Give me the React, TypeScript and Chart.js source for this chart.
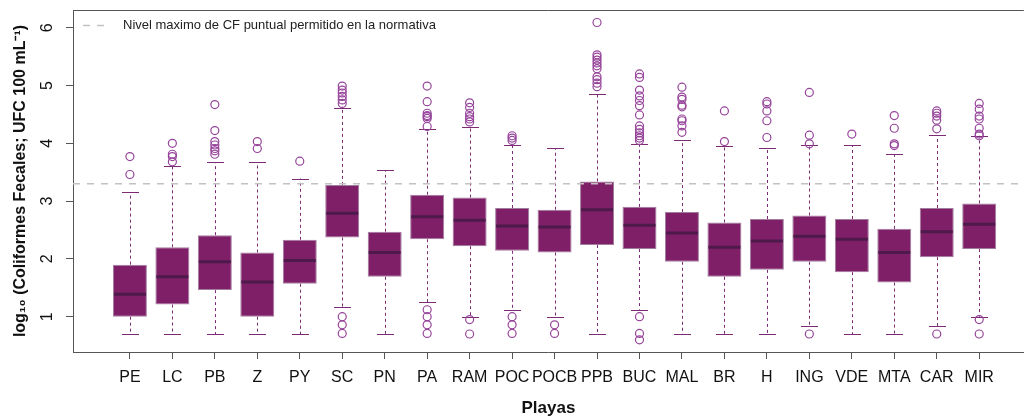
import React, { useEffect, useRef } from "react";
import { Chart, registerables } from "chart.js";

Chart.register(...registerables);

// ---------- data ----------
const categories = ["PE", "LC", "PB", "Z", "PY", "SC", "PN", "PA", "RAM", "POC", "POCB", "PPB", "BUC", "MAL", "BR", "H", "ING", "VDE", "MTA", "CAR", "MIR"];

const lowerWhisker = [0.70, 0.70, 0.70, 0.70, 0.70, 1.17, 0.70, 1.25, 1.00, 1.12, 1.00, 0.70, 1.12, 0.70, 0.70, 0.70, 0.84, 0.70, 0.70, 0.84, 1.00];
const q1 = [1.00, 1.21, 1.46, 1.00, 1.57, 2.37, 1.69, 2.34, 2.22, 2.14, 2.11, 2.24, 2.17, 1.95, 1.69, 1.81, 1.95, 1.77, 1.59, 2.03, 2.17];
const median = [1.39, 1.69, 1.95, 1.60, 1.97, 2.79, 2.11, 2.73, 2.67, 2.57, 2.55, 2.85, 2.58, 2.45, 2.20, 2.31, 2.39, 2.34, 2.11, 2.47, 2.60];
const q3 = [1.90, 2.20, 2.41, 2.11, 2.33, 3.28, 2.47, 3.11, 3.06, 2.88, 2.85, 3.34, 2.90, 2.81, 2.63, 2.69, 2.75, 2.69, 2.52, 2.88, 2.96];
const upperWhisker = [3.15, 3.61, 3.67, 3.67, 3.39, 4.61, 3.53, 4.25, 4.29, 3.97, 3.91, 4.85, 3.99, 4.05, 3.95, 3.91, 3.97, 3.97, 3.81, 4.14, 4.13];

const outliers: number[][] = [
  [3.46, 3.77],
  [3.68, 3.77, 3.81, 4.0],
  [3.81, 3.87, 3.91, 3.97, 4.03, 4.22, 4.67],
  [3.91, 4.03],
  [3.69],
  [0.71, 0.86, 1.0, 4.69, 4.75, 4.81, 4.87, 4.92, 4.99],
  [],
  [0.71, 0.86, 1.0, 1.12, 4.29, 4.43, 4.46, 4.48, 4.52, 4.72, 4.99],
  [0.70, 0.95, 4.37, 4.42, 4.46, 4.52, 4.62, 4.70],
  [0.71, 0.86, 1.0, 4.05, 4.09, 4.13],
  [0.71, 0.86],
  [4.98, 5.04, 5.10, 5.15, 5.29, 5.34, 5.39, 5.44, 5.49, 5.53, 6.09],
  [0.60, 0.71, 1.0, 4.05, 4.09, 4.13, 4.18, 4.24, 4.30, 4.49, 4.65, 4.74, 4.82, 4.92, 5.14, 5.20],
  [4.19, 4.30, 4.39, 4.42, 4.63, 4.66, 4.76, 4.80, 4.97],
  [4.03, 4.56],
  [4.10, 4.39, 4.56, 4.68, 4.72],
  [0.70, 3.99, 4.14, 4.88],
  [4.16],
  [3.96, 3.99, 4.26, 4.48],
  [0.70, 4.25, 4.40, 4.47, 4.52, 4.56],
  [0.70, 0.95, 4.13, 4.16, 4.26, 4.42, 4.47, 4.59, 4.69],
];

const yTicks = [1, 2, 3, 4, 5, 6];
const referenceLevel = 3.3;
const referenceLabel = "Nivel maximo de CF puntual permitido en la normativa";
const xTitle = "Playas";
const yTitle = "log\u2081\u2080 (Coliformes Fecales; UFC 100 mL\u207B\u00B9)";

// ---------- styling ----------
const X_MIN = -0.34;
const X_MAX = 22.05;
const Y_MIN = 0.389;
const Y_MAX = 6.306;
const BOX_FILL = "#7f1f67";
const BOX_BORDER = "#a27c9f";
const MEDIAN_COLOR = "#4d1a4b";
const WHISKER_COLOR = "#7d2a74";
const OUTLIER_COLOR = "#96449a";
const REF_COLOR = "#c2c2c2";
const AXIS_COLOR = "#555555";
const FONT = "'Liberation Sans', Arial, Helvetica, sans-serif";

const boxplotPlugin = {
  id: "boxplotParts",
  beforeDatasetsDraw(chart: any) {
    const { ctx, scales } = chart;
    const x = scales.x;
    const y = scales.y;
    ctx.save();
    ctx.strokeStyle = WHISKER_COLOR;
    ctx.lineWidth = 1;
    categories.forEach((_, i) => {
      const px = Math.round(x.getPixelForValue(i + 1)) + 0.5;
      const capHalf = x.getPixelForValue(i + 1 + 0.2) - x.getPixelForValue(i + 1);
      ctx.setLineDash([3, 3]);
      ctx.beginPath();
      ctx.moveTo(px, y.getPixelForValue(q3[i]));
      ctx.lineTo(px, y.getPixelForValue(upperWhisker[i]));
      ctx.moveTo(px, y.getPixelForValue(q1[i]));
      ctx.lineTo(px, y.getPixelForValue(lowerWhisker[i]));
      ctx.stroke();
      ctx.setLineDash([]);
      ctx.beginPath();
      const yu = Math.round(y.getPixelForValue(upperWhisker[i])) + 0.5;
      const yl = Math.round(y.getPixelForValue(lowerWhisker[i])) + 0.5;
      ctx.moveTo(px - capHalf, yu);
      ctx.lineTo(px + capHalf, yu);
      ctx.moveTo(px - capHalf, yl);
      ctx.lineTo(px + capHalf, yl);
      ctx.stroke();
    });
    ctx.restore();
  },
  afterDatasetsDraw(chart: any) {
    const { ctx, scales, chartArea } = chart;
    const x = scales.x;
    const y = scales.y;
    ctx.save();
    ctx.strokeStyle = MEDIAN_COLOR;
    ctx.lineWidth = 3;
    categories.forEach((_, i) => {
      const px = x.getPixelForValue(i + 1);
      const half = x.getPixelForValue(i + 1 + 0.4) - px;
      const py = y.getPixelForValue(median[i]);
      ctx.beginPath();
      ctx.moveTo(px - half + 1, py);
      ctx.lineTo(px + half - 1, py);
      ctx.stroke();
    });
    // top frame line
    ctx.strokeStyle = AXIS_COLOR;
    ctx.lineWidth = 1;
    ctx.beginPath();
    ctx.moveTo(chartArea.left, Math.round(chartArea.top) + 0.5);
    ctx.lineTo(chartArea.right, Math.round(chartArea.top) + 0.5);
    ctx.stroke();
    // legend
    const lx = chartArea.left + 10;
    const ly = Math.round(chartArea.top + 15) + 0.5;
    ctx.strokeStyle = REF_COLOR;
    ctx.lineWidth = 1.5;
    ctx.setLineDash([7, 7]);
    ctx.beginPath();
    ctx.moveTo(lx, ly);
    ctx.lineTo(lx + 21, ly);
    ctx.stroke();
    ctx.setLineDash([]);
    ctx.fillStyle = "#222";
    ctx.font = `13px ${FONT}`;
    ctx.textBaseline = "middle";
    ctx.textAlign = "left";
    ctx.fillText(referenceLabel, lx + 40, ly);
    ctx.restore();
  },
};

export default function App() {
  const canvasRef = useRef<HTMLCanvasElement | null>(null);

  useEffect(() => {
    const canvas = canvasRef.current;
    if (!canvas) return;
    const outlierPoints: { x: number; y: number }[] = [];
    outliers.forEach((arr, i) => arr.forEach((v) => outlierPoints.push({ x: i + 1, y: v })));

    const chart = new Chart(canvas, {
      type: "bar",
      data: {
        datasets: [
          {
            type: "line",
            label: referenceLabel,
            data: [
              { x: X_MIN, y: referenceLevel },
              { x: X_MAX, y: referenceLevel },
            ],
            borderColor: REF_COLOR,
            borderWidth: 1.5,
            borderDash: [7, 7],
            pointRadius: 0,
            fill: false,
            order: 0,
          } as any,
          {
            type: "scatter",
            label: "outliers",
            data: outlierPoints,
            pointStyle: "circle",
            pointRadius: 4,
            borderColor: OUTLIER_COLOR,
            backgroundColor: "rgba(0,0,0,0)",
            borderWidth: 1.2,
            order: 1,
          } as any,
          {
            type: "bar",
            label: "boxes",
            data: categories.map((_, i) => ({ x: i + 1, y: [q1[i], q3[i]] })),
            backgroundColor: BOX_FILL,
            borderColor: BOX_BORDER,
            borderWidth: 1,
            borderSkipped: false,
            barPercentage: 0.8,
            categoryPercentage: 1,
            order: 2,
          } as any,
        ],
      },
      options: {
        responsive: false,
        animation: false,
        devicePixelRatio: 1,
        events: [],
        layout: { padding: { top: 10, right: 0, bottom: 0, left: 0 } },
        plugins: {
          legend: { display: false },
          tooltip: { enabled: false },
        },
        scales: {
          x: {
            type: "linear",
            min: X_MIN,
            max: X_MAX,
            offset: false,
            afterBuildTicks: (s: any) => {
              s.ticks = categories.map((_, i) => ({ value: i + 1 }));
            },
            afterFit: (s: any) => {
              s.height = 68;
              s.paddingLeft = 0;
              s.paddingRight = 0;
              s.paddingTop = 0;
              s.paddingBottom = 0;
            },
            ticks: {
              autoSkip: false,
              maxRotation: 0,
              minRotation: 0,
              padding: 9,
              color: "#111",
              font: { family: FONT, size: 16 },
              callback: (_v: any, idx: number) => categories[idx],
            },
            grid: { drawOnChartArea: false, drawTicks: true, tickLength: 7, color: AXIS_COLOR, offset: false },
            border: { display: true, color: AXIS_COLOR, width: 1 },
            title: {
              display: true,
              text: xTitle,
              color: "#111",
              font: { family: FONT, size: 17, weight: "bold", lineHeight: 1.2 },
              padding: { top: 0, bottom: 1 },
            },
          },
          y: {
            type: "linear",
            min: Y_MIN,
            max: Y_MAX,
            afterBuildTicks: (s: any) => {
              s.ticks = yTicks.map((v) => ({ value: v }));
            },
            afterFit: (s: any) => {
              s.width = 73;
              s.paddingLeft = 0;
              s.paddingRight = 0;
              s.paddingTop = 0;
              s.paddingBottom = 0;
            },
            ticks: {
              minRotation: 90,
              maxRotation: 90,
              crossAlign: "center",
              padding: 14,
              color: "#111",
              font: { family: FONT, size: 16 },
              callback: (v: any) => String(v),
            },
            grid: { drawOnChartArea: false, drawTicks: true, tickLength: 7, color: AXIS_COLOR },
            border: { display: true, color: AXIS_COLOR, width: 1 },
            title: {
              display: true,
              text: yTitle,
              color: "#111",
              font: { family: FONT, size: 16, weight: "bold", lineHeight: 1.2 },
              padding: { top: 11, bottom: 0 },
            },
          },
        },
      } as any,
      plugins: [boxplotPlugin],
    });
    return () => chart.destroy();
  }, []);

  return (
    <div style={{ position: "fixed", left: 0, top: 0, width: 1029, height: 420, background: "#fff" }}>
      <canvas ref={canvasRef} width={1029} height={420} style={{ width: 1029, height: 420, display: "block" }} />
    </div>
  );
}
